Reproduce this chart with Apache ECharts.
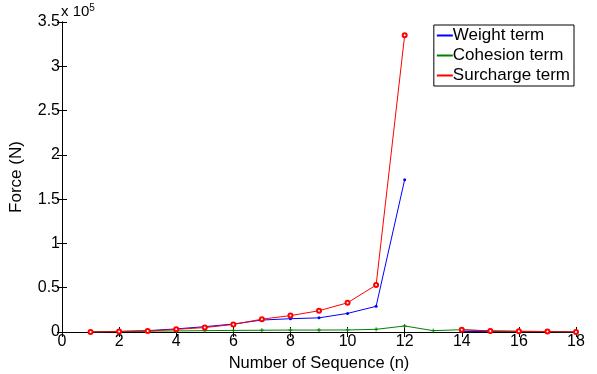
<!DOCTYPE html>
<html>
<head>
<meta charset="utf-8">
<script src="https://cdn.jsdelivr.net/npm/echarts@6/dist/echarts.min.js"></script>
<style>
html, body { margin: 0; padding: 0; background: #fff; }
#chart { width: 597px; height: 374px; }
</style>
</head>
<body>
<div id="chart"></div>
<script>
// sequence number n
var seq = [1, 2, 3, 4, 5, 6, 7, 8, 9, 10, 11, 12, 13, 14, 15, 16, 17, 18];
// forces in units of 1e5 N (null = no value)
var weightTerm = [0, 0.005, 0.015, 0.035, 0.06, 0.09, 0.135, 0.15, 0.16, 0.21, 0.29, 1.72, null, 0.005, 0.005, 0.004, 0.003, 0];
var cohesionTerm = [0, 0.008, 0.01, 0.012, 0.015, 0.018, 0.02, 0.022, 0.022, 0.023, 0.03, 0.068, 0.015, 0.026, 0.012, 0.008, 0.005, 0];
var surchargeTerm = [0, 0.005, 0.01, 0.03, 0.05, 0.085, 0.145, 0.185, 0.24, 0.33, 0.53, 3.35, null, 0.025, 0.012, 0.008, 0.005, 0];
var names = ['Weight term', 'Cohesion term', 'Surcharge term'];
var colors = ['#0000ff', '#008000', '#ff0000'];

function pairs(arr) {
	return seq.map(function (n, i) { return [n, arr[i]]; });
}

var myChart = echarts.init(document.getElementById("chart"));
var font = 'Liberation Sans';

var option = {
	animation: false,
	backgroundColor: '#fff',
	textStyle: { fontFamily: font },
	grid: { left: 62, right: 21, top: 22, bottom: 42, outerBoundsMode: 'none', containLabel: false },
	legend: {
		orient: 'vertical',
		right: 23,
		top: 25,
		itemWidth: 16,
		itemHeight: 2,
		itemGap: 3,
		padding: [2, 4, 2, 3],
		borderColor: '#000',
		borderWidth: 1,
		backgroundColor: '#fff',
		icon: 'rect',
		textStyle: { color: '#000', fontSize: 17, fontFamily: font, padding: [0, 0, 0, -5] },
		data: names.map(function (n, i) {
			return { name: n, itemStyle: { color: colors[i], borderColor: colors[i], borderWidth: 0 } };
		})
	},
	graphic: [{
		type: 'text',
		left: 61,
		top: 3,
		style: {
			text: '{a|x 10}{b|5}',
			rich: {
				a: { fontSize: 15, fontFamily: font, fill: '#000' },
				b: { fontSize: 10, fontFamily: font, fill: '#000', verticalAlign: 'top', padding: [0, 0, 8, 0] }
			}
		}
	}],
	xAxis: [{
		type: 'value',
		min: 0, max: 18, interval: 2,
		name: 'Number of Sequence (n)',
		nameLocation: 'middle',
		nameGap: 22,
		nameTextStyle: { color: '#000', fontSize: 16.5, fontFamily: font },
		axisLine: { lineStyle: { color: '#000', width: 1 } },
		axisTick: { inside: true, length: 5, lineStyle: { color: '#000' } },
		axisLabel: { color: '#000', fontSize: 16, margin: 2, fontFamily: font },
		splitLine: { show: false }
	}, {
		type: 'value',
		position: 'top',
		min: 0, max: 18, interval: 2,
		axisLine: { lineStyle: { color: '#000', width: 1 } },
		axisTick: { inside: true, length: 5, lineStyle: { color: '#000' } },
		axisLabel: { show: false },
		splitLine: { show: false }
	}],
	yAxis: [{
		type: 'value',
		min: 0, max: 3.5, interval: 0.5,
		name: 'Force (N)',
		nameLocation: 'middle',
		nameGap: 37,
		nameTextStyle: { color: '#000', fontSize: 17, fontFamily: font },
		axisLine: { show: true, lineStyle: { color: '#000', width: 1 } },
		axisTick: { show: true, inside: true, length: 5, lineStyle: { color: '#000' } },
		axisLabel: { color: '#000', fontSize: 16, margin: 2, fontFamily: font },
		splitLine: { show: false }
	}, {
		type: 'value',
		position: 'right',
		min: 0, max: 3.5, interval: 0.5,
		axisLine: { show: true, lineStyle: { color: '#000', width: 1 } },
		axisTick: { show: true, inside: true, length: 5, lineStyle: { color: '#000' } },
		axisLabel: { show: false },
		splitLine: { show: false }
	}],
	series: [
		{
			name: names[0],
			type: 'line',
			data: pairs(weightTerm),
			lineStyle: { width: 1, color: colors[0] },
			symbol: 'circle',
			symbolSize: 3,
			itemStyle: { color: colors[0] }
		},
		{
			name: names[1],
			type: 'line',
			data: pairs(cohesionTerm),
			lineStyle: { width: 1, color: colors[1] },
			symbol: 'path://M0,5L10,5M5,0L5,10',
			symbolSize: 4,
			itemStyle: { color: colors[1], borderColor: colors[1], borderWidth: 1 }
		},
		{
			name: names[2],
			type: 'line',
			data: pairs(surchargeTerm),
			lineStyle: { width: 1, color: colors[2] },
			symbol: 'emptyCircle',
			symbolSize: 4,
			itemStyle: { color: colors[2], borderColor: colors[2], borderWidth: 0.8 }
		}
	]
};
myChart.setOption(option);
</script>
</body>
</html>
